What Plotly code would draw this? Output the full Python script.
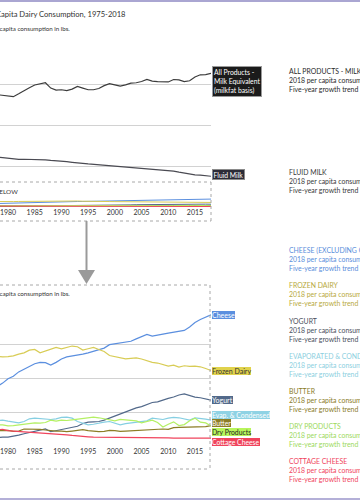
import plotly.graph_objects as go

years = list(range(1975, 2019))

all_products = [540, 545, 545, 548, 544, 540, 538, 552, 568, 582, 595, 600, 606, 580, 570,
                572, 568, 575, 588, 580, 572, 572, 578, 592, 602, 596, 590, 596, 604, 606,
                612, 622, 614, 612, 612, 610, 622, 620, 612, 616, 634, 645, 646, 652]
fluid_milk = [247, 247, 246, 244, 241, 237, 235, 232, 233, 233, 233, 231, 230, 227, 226,
              222, 221, 218, 214, 213, 210, 208, 206, 203, 202, 198, 196, 195, 193, 191,
              188, 186, 184, 182, 181, 178, 175, 170, 165, 160, 157, 155, 152, 150]
cheese = [15.0, 15.8, 16.4, 17.5, 18.5, 19.8, 20.5, 21.8, 22.5, 23.4, 24.2, 24.6, 24.5, 23.8, 24.6,
          25.6, 26.2, 26.4, 26.8, 27.0, 27.4, 27.8, 28.2, 28.8, 29.8, 30.0, 30.2, 30.6, 30.8, 31.5,
          32.2, 32.8, 32.3, 32.5, 32.9, 33.2, 33.5, 33.6, 34.0, 35.0, 36.3, 37.2, 37.8, 38.6]
frozen_dairy = [27.0, 26.5, 26.5, 26.3, 26.2, 26.3, 26.5, 27.0, 27.4, 28.2, 28.4, 27.4, 28.0, 28.4, 29.0,
                28.6, 29.0, 29.4, 29.2, 28.2, 28.6, 29.0, 28.4, 27.8, 26.6, 26.2, 25.8, 25.6, 25.8, 25.9,
                25.6, 25.0, 24.6, 24.4, 23.9, 23.5, 23.8, 23.2, 23.6, 23.4, 23.5, 23.3, 22.8, 22.2]
yogurt = [2.0, 2.2, 2.3, 2.5, 2.6, 2.6, 2.8, 3.2, 3.6, 3.9, 4.3, 4.6, 5.0, 4.2, 4.5,
          4.8, 5.1, 5.4, 5.8, 6.6, 7.0, 7.1, 7.2, 7.6, 8.2, 8.8, 9.6, 10.2, 10.6, 11.2,
          11.6, 12.2, 12.8, 13.0, 13.6, 14.0, 14.4, 15.0, 15.3, 14.8, 14.4, 14.2, 13.9, 13.5]
evap_condensed = [7.0, 7.2, 7.4, 7.6, 7.6, 7.3, 7.0, 6.8, 7.2, 8.0, 8.2, 8.0, 7.8, 7.8, 8.0,
                  8.4, 8.5, 8.2, 7.2, 6.6, 6.2, 6.4, 6.8, 7.0, 7.2, 6.6, 6.2, 6.6, 6.8, 6.9,
                  7.0, 7.4, 8.2, 8.0, 7.8, 8.2, 8.4, 8.3, 7.9, 7.6, 8.3, 8.2, 7.9, 7.6]
butter = [4.8, 4.4, 4.4, 4.5, 4.6, 4.6, 4.3, 4.4, 5.0, 5.0, 4.9, 4.9, 4.7, 4.5, 4.4,
          4.4, 4.2, 4.4, 4.7, 4.8, 4.5, 4.3, 4.2, 4.3, 4.6, 4.5, 4.3, 4.4, 4.5, 4.5,
          4.5, 4.7, 4.7, 5.0, 5.0, 4.9, 5.4, 5.5, 5.5, 5.5, 5.6, 5.7, 5.7, 6.0]
dry_products = [5.8, 6.0, 6.0, 6.2, 6.2, 5.9, 6.0, 6.2, 6.4, 6.6, 6.8, 6.7, 6.9, 7.6, 7.3,
                7.6, 7.5, 7.7, 7.9, 8.2, 8.3, 8.5, 8.3, 8.0, 7.6, 7.4, 7.8, 7.6, 7.6, 7.4,
                6.8, 7.2, 7.6, 6.9, 5.6, 6.4, 7.1, 6.0, 6.3, 7.4, 8.2, 7.0, 6.8, 5.9]
cottage_cheese = [4.6, 4.6, 4.7, 4.8, 4.9, 4.5, 4.4, 4.3, 4.2, 4.1, 4.1, 4.0, 3.9, 3.7, 3.5,
                  3.4, 3.3, 3.1, 2.9, 2.8, 2.7, 2.6, 2.6, 2.6, 2.6, 2.6, 2.6, 2.6, 2.6, 2.6,
                  2.6, 2.6, 2.6, 2.4, 2.4, 2.4, 2.3, 2.3, 2.3, 2.3, 2.3, 2.3, 2.3, 2.3]

x_ticks = [1980, 1985, 1990, 1995, 2000, 2005, 2010, 2015]

small_series = [
    ("Cheese", cheese, "#5b8fdf"),
    ("Frozen Dairy", frozen_dairy, "#d8cc55"),
    ("Yogurt", yogurt, "#52698a"),
    ("Evap. & Condensed", evap_condensed, "#86cfe2"),
    ("Butter", butter, "#8c7d25"),
    ("Dry Products", dry_products, "#b4f064"),
    ("Cottage Cheese", cottage_cheese, "#f0445c"),
]

W, H = 360, 504
def px(x):
    return x / W
def py(y):
    return 1 - y / H

FONT = "Lato"
fig = go.Figure()

# top chart
fig.add_trace(go.Scatter(x=years, y=all_products, mode="lines", line=dict(color="#3c3c3c", width=1.2),
                         xaxis="x", yaxis="y", showlegend=False, hoverinfo="skip"))
fig.add_trace(go.Scatter(x=years, y=fluid_milk, mode="lines", line=dict(color="#4a4a52", width=1.2),
                         xaxis="x", yaxis="y", showlegend=False, hoverinfo="skip"))
for name, vals, col in small_series:
    fig.add_trace(go.Scatter(x=years, y=vals, mode="lines", line=dict(color=col, width=1),
                             xaxis="x", yaxis="y", showlegend=False, hoverinfo="skip"))
# bottom chart
for name, vals, col in small_series:
    fig.add_trace(go.Scatter(x=years, y=vals, mode="lines", line=dict(color=col, width=1.2),
                             xaxis="x2", yaxis="y2", showlegend=False, hoverinfo="skip"))

xr = [1978.5, 2018]
xdom = [0, px(211)]
axis_common = dict(showline=False, zeroline=False, ticks="", ticklabeloverflow="allow",
                   tickfont=dict(family=FONT, size=7, color="#333"))

fig.update_layout(
    width=W, height=H, margin=dict(l=0, r=0, t=0, b=0),
    paper_bgcolor="white", plot_bgcolor="rgba(0,0,0,0)",
    xaxis=dict(domain=xdom, range=xr, tickvals=x_ticks, showgrid=False, anchor="y", **axis_common),
    yaxis=dict(domain=[py(207), py(43)], range=[0, 800], tickvals=[200, 400, 600, 800],
               showgrid=True, gridcolor="#d2d2d2", gridwidth=1, showticklabels=False,
               zeroline=False, anchor="x"),
    xaxis2=dict(domain=xdom, range=xr, tickvals=x_ticks, showgrid=False, anchor="y2", **axis_common),
    yaxis2=dict(domain=[py(446), py(310)], range=[0, 40], tickvals=[0, 10, 20, 30, 40],
                showgrid=True, gridcolor="#d2d2d2", gridwidth=1, showticklabels=False,
                zeroline=False, anchor="x2"),
)

shapes = []
# purple borders
shapes.append(dict(type="line", xref="paper", yref="paper", x0=0, x1=1, y0=py(1), y1=py(1),
                   line=dict(color="#aaa6d2", width=2)))
shapes.append(dict(type="line", xref="paper", yref="paper", x0=0, x1=1, y0=py(499), y1=py(499),
                   line=dict(color="#b4b0d8", width=2)))
# BELOW box
dash = dict(color="#a8a8a8", width=1, dash="dot")
shapes.append(dict(type="line", xref="paper", yref="paper", x0=0, x1=px(211), y0=py(182), y1=py(182), line=dash))
shapes.append(dict(type="line", xref="paper", yref="paper", x0=0, x1=px(211), y0=py(221), y1=py(221), line=dash))
shapes.append(dict(type="line", xref="paper", yref="paper", x0=px(211), x1=px(211), y0=py(182), y1=py(221), line=dash))
# bottom box
shapes.append(dict(type="line", xref="paper", yref="paper", x0=0, x1=px(210), y0=py(285), y1=py(285), line=dash))
shapes.append(dict(type="line", xref="paper", yref="paper", x0=0, x1=px(210), y0=py(469), y1=py(469), line=dash))
shapes.append(dict(type="line", xref="paper", yref="paper", x0=px(210), x1=px(210), y0=py(285), y1=py(469), line=dash))
# arrow
shapes.append(dict(type="line", xref="paper", yref="paper", x0=px(86.5), x1=px(86.5), y0=py(221), y1=py(272),
                   line=dict(color="#9a9a9a", width=2)))
shapes.append(dict(type="path", xref="paper", yref="paper",
                   path=f"M {px(78)} {py(270)} L {px(95)} {py(270)} L {px(86.5)} {py(284)} Z",
                   fillcolor="#9a9a9a", line=dict(width=0)))
fig.update_layout(shapes=shapes)

ann = []
def text(x, y, s, size=7, color="#333", anchor="left"):
    ann.append(dict(x=px(x), y=py(y), xref="paper", yref="paper", text=s, showarrow=False,
                    xanchor=anchor, yanchor="middle", align="left",
                    font=dict(family=FONT, size=size, color=color)))

text(128, 14, "U.S. Per Capita Dairy Consumption, 1975-2018", size=7.6, color="#333", anchor="right")
text(72, 28, "Per capita consumption in lbs.", size=6.2, color="#333", anchor="right")
text(20, 191, "SEE DETAIL BELOW", size=6.4, color="#333", anchor="right")
text(72, 293, "Per capita consumption in lbs.", size=6.2, color="#333", anchor="right")

def label(x, y, s, bg, fg="white", border=None, size=6.8, pad=0, bw=0):
    ann.append(dict(x=px(x), y=py(y), xref="paper", yref="paper", text=s, showarrow=False,
                    xanchor="left", yanchor="middle", align="left", bgcolor=bg,
                    bordercolor=border or bg, borderwidth=bw, borderpad=pad,
                    font=dict(family=FONT, size=size, color=fg)))

label(212, 82, "All Products -<br>Milk Equivalent<br>(milkfat basis)", "#1b1b1b", border="#9a9a9a",
      size=6.8, pad=1, bw=1)
label(212, 174, "Fluid Milk", "#2c2c38", border="#8a8a8a", size=6.8, pad=0.5, bw=1)
label(212, 314.5, "Cheese", "#5b8fdf", size=7)
label(212, 370.5, "Frozen Dairy", "#e0d24c", fg="#333", size=7)
label(212, 399.5, "Yogurt", "#52698a", size=7)
label(212, 414.5, "Evap. &amp; Condensed", "#8fd2e4")
label(212, 423.2, "Butter", "#8c7d25")
label(212, 432, "Dry Products", "#b8f55c", fg="#222")
label(212, 441.5, "Cottage Cheese", "#f0445c")

blocks = [
    (71, "ALL PRODUCTS - MILK EQUIVALENT", "#2a2a2a"),
    (172, "FLUID MILK", "#3a3a3a"),
    (250, "CHEESE (EXCLUDING COTTAGE)", "#5a8edb"),
    (285, "FROZEN DAIRY", "#b8a93c"),
    (321, "YOGURT", "#4a4f5c"),
    (356, "EVAPORATED &amp; CONDENSED", "#8ccfe0"),
    (391, "BUTTER", "#8a7b28"),
    (426, "DRY PRODUCTS", "#9cd95c"),
    (461, "COTTAGE CHEESE", "#f0445c"),
]
for y0, title, col in blocks:
    text(287, y0, title, size=6.9, color=col)
    text(287, y0 + 9, "2018 per capita consumption", size=6.9, color=col)
    text(287, y0 + 18, "Five-year growth trend", size=6.9, color=col)

fig.update_layout(annotations=ann)
fig.write_html("out.html", config={"displayModeBar": False},
               post_script="document.body.style.margin='0';")
